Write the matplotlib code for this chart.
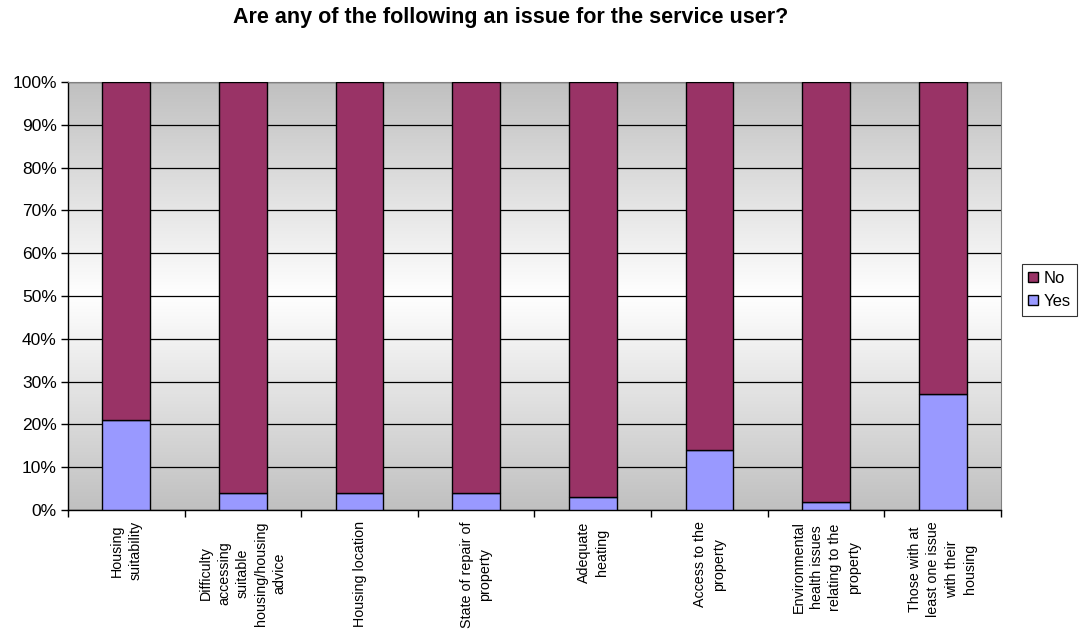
import numpy as np
import matplotlib
matplotlib.use("Agg")
import matplotlib.pyplot as plt
from matplotlib.colors import LinearSegmentedColormap
from matplotlib.ticker import FixedLocator, PercentFormatter

plt.rcParams["font.family"] = ["Liberation Sans", "DejaVu Sans"]

TITLE = "Are any of the following an issue for the service user?"
CATEGORIES = [
    "Housing\nsuitability",
    "Difficulty\naccessing\nsuitable\nhousing/housing\nadvice",
    "Housing location",
    "State of repair of\nproperty",
    "Adequate\nheating",
    "Access to the\nproperty",
    "Environmental\nhealth issues\nrelating to the\nproperty",
    "Those with at\nleast one issue\nwith their\nhousing",
]
YES = [21, 4, 4, 4, 3, 14, 2, 27]
NO = [100 - v for v in YES]

COLOR_NO = "#993366"
COLOR_YES = "#9999FF"


def draw_background(ax, n):
    cmap = LinearSegmentedColormap.from_list(
        "bg", ["#c0c0c0", "#ffffff", "#c0c0c0"])
    grad = np.linspace(0, 1, 256).reshape(-1, 1)
    ax.imshow(grad, cmap=cmap, aspect="auto", zorder=0,
              extent=(-0.5, n - 0.5, 0, 100), origin="lower",
              interpolation="bicubic")


fig = plt.figure(figsize=(10.79, 6.4), dpi=100)
ax = fig.add_axes([0.063, 0.203, 0.8647, 0.669])

x = np.arange(len(CATEGORIES))
draw_background(ax, len(CATEGORIES))

ax.bar(x, YES, width=0.41, color=COLOR_YES, edgecolor="black",
       linewidth=1, label="Yes", zorder=3)
ax.bar(x, NO, width=0.41, bottom=YES, color=COLOR_NO, edgecolor="black",
       linewidth=1, label="No", zorder=3)

ax.set_xlim(-0.5, len(CATEGORIES) - 0.5)
ax.set_ylim(0, 100)
ax.set_yticks(np.arange(0, 101, 10))
ax.yaxis.set_major_formatter(PercentFormatter(decimals=0))
ax.grid(axis="y", color="black", linewidth=0.9, zorder=1)
ax.set_axisbelow(True)

ax.set_xticks(x)
ax.set_xticklabels(CATEGORIES, rotation=90, ha="center", va="top",
                   multialignment="center", fontsize=10.3,
                   linespacing=1.4)
ax.xaxis.set_minor_locator(FixedLocator(np.arange(-0.5, len(CATEGORIES), 1)))
ax.tick_params(axis="x", which="major", length=0, pad=8)
ax.tick_params(axis="x", which="minor", length=5, width=1, color="black")
ax.tick_params(axis="y", length=5, width=1, labelsize=12.5, pad=3)

for side in ("top", "right"):
    ax.spines[side].set_color("#808080")
for side in ("left", "bottom"):
    ax.spines[side].set_color("black")
    ax.spines[side].set_linewidth(1)

handles, labels = ax.get_legend_handles_labels()
leg = fig.legend(handles[::-1], labels[::-1], loc="upper left",
                 bbox_to_anchor=(0.947, 0.5875), fontsize=12,
                 frameon=True, fancybox=False, handlelength=0.6,
                 handleheight=0.6, handletextpad=0.3, borderpad=0.4,
                 labelspacing=0.5, borderaxespad=0)
leg.get_frame().set_edgecolor("black")
leg.get_frame().set_linewidth(0.8)

fig.text(0.4736, 0.972, TITLE, ha="center", va="center",
         fontsize=15.5, fontweight="bold")

fig.savefig("out.png", dpi=100)
